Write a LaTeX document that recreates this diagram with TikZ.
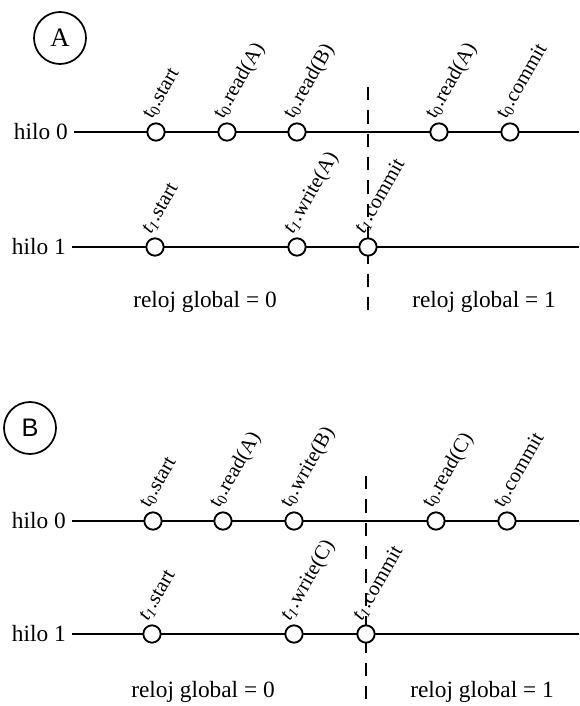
\documentclass[tikz,border=0pt]{standalone}
\usepackage{fontspec}
\setmainfont{Liberation Serif}
\newfontfamily\labelsans{Liberation Sans}
\begin{document}
\begin{tikzpicture}[x=0.75pt, y=-0.75pt,
  thread/.style={line width=1.5pt},
  event/.style={circle, draw, line width=1.4pt, fill=white, minimum size=13pt, inner sep=0pt},
  evlabel/.style={rotate=60, anchor=base west, inner sep=0pt, font=\fontsize{15.5}{18}\selectfont},
  threadname/.style={anchor=east, inner sep=0pt, font=\fontsize{17.5}{21}\selectfont},
  clock/.style={inner sep=0pt, font=\fontsize{17.5}{21}\selectfont},
  tag/.style={circle, draw, line width=1.3pt, minimum size=39pt, inner sep=0pt, font=\fontsize{20}{24}\selectfont},
  sync/.style={line width=1.4pt, dash pattern=on 10pt off 7.5pt}
]
\useasboundingbox (0,0) rectangle (579,706);

% ---------------- panel A ----------------
\node[tag] (tagA) at (60,38) {A};

\coordinate (a0s) at (74,132);  \coordinate (a0e) at (579,132);
\coordinate (a1s) at (72,247);  \coordinate (a1e) at (579,247);
\node[threadname] (a0name) at (68,132) {hilo 0};
\node[threadname] (a1name) at (66,247) {hilo 1};
\draw[thread] (a0s) -- (a0e);
\draw[thread] (a1s) -- (a1e);

\coordinate (aDt) at (368,87); \coordinate (aDb) at (368,314);
\draw[sync] (aDt) -- (aDb);

\node[event] (a01) at (156,132) {};
\node[event] (a02) at (227,132) {};
\node[event] (a03) at (297,132) {};
\node[event] (a04) at (439,132) {};
\node[event] (a05) at (510,132) {};
\node[event] (a11) at (155,247) {};
\node[event] (a12) at (297,247) {};
\node[event] (a13) at (368,247) {};

\node[evlabel] at ([shift={(-4,-12)}]a01) {t\textsubscript{0}.start};
\node[evlabel] at ([shift={(-4,-12)}]a02) {t\textsubscript{0}.read(A)};
\node[evlabel] at ([shift={(-4,-12)}]a03) {t\textsubscript{0}.read(B)};
\node[evlabel] at ([shift={(-4,-12)}]a04) {t\textsubscript{0}.read(A)};
\node[evlabel] at ([shift={(-4,-12)}]a05) {t\textsubscript{0}.commit};
\node[evlabel] at ([shift={(-4,-12)}]a11) {\textit{t\textsubscript{1}}.start};
\node[evlabel] at ([shift={(-4,-12)}]a12) {\textit{t\textsubscript{1}}.write(A)};
\node[evlabel] at ([shift={(-4,-12)}]a13) {\textit{t\textsubscript{1}}.commit};

\node[clock] (aclk0) at (205,302) {reloj global = 0};
\node[clock] (aclk1) at (484,302) {reloj global = 1};

% ---------------- panel B ----------------
\node[tag, font=\labelsans\fontsize{19}{22}\selectfont, minimum size=39pt] (tagB) at (30,428) {B};

\coordinate (b0s) at (72,521);  \coordinate (b0e) at (579,521);
\coordinate (b1s) at (72,634);  \coordinate (b1e) at (579,634);
\node[threadname] (b0name) at (66,521) {hilo 0};
\node[threadname] (b1name) at (66,634) {hilo 1};
\draw[thread] (b0s) -- (b0e);
\draw[thread] (b1s) -- (b1e);

\coordinate (bDt) at (366,476); \coordinate (bDb) at (366,704);
\draw[sync] (bDt) -- (bDb);

\node[event] (b01) at (153,521) {};
\node[event] (b02) at (223,521) {};
\node[event] (b03) at (294,521) {};
\node[event] (b04) at (436,521) {};
\node[event] (b05) at (507,521) {};
\node[event] (b11) at (152,634) {};
\node[event] (b12) at (294,634) {};
\node[event] (b13) at (366,634) {};

\node[evlabel] at ([shift={(-4,-12)}]b01) {t\textsubscript{0}.start};
\node[evlabel] at ([shift={(-4,-12)}]b02) {t\textsubscript{0}.read(A)};
\node[evlabel] at ([shift={(-4,-12)}]b03) {t\textsubscript{0}.write(B)};
\node[evlabel] at ([shift={(-4,-12)}]b04) {t\textsubscript{0}.read(C)};
\node[evlabel] at ([shift={(-4,-12)}]b05) {t\textsubscript{0}.commit};
\node[evlabel] at ([shift={(-4,-12)}]b11) {\textit{t\textsubscript{1}}.start};
\node[evlabel] at ([shift={(-4,-12)}]b12) {\textit{t\textsubscript{1}}.write(C)};
\node[evlabel] at ([shift={(-4,-12)}]b13) {\textit{t\textsubscript{1}}.commit};

\node[clock] (bclk0) at (203,692) {reloj global = 0};
\node[clock] (bclk1) at (482,692) {reloj global = 1};
\end{tikzpicture}
\end{document}
